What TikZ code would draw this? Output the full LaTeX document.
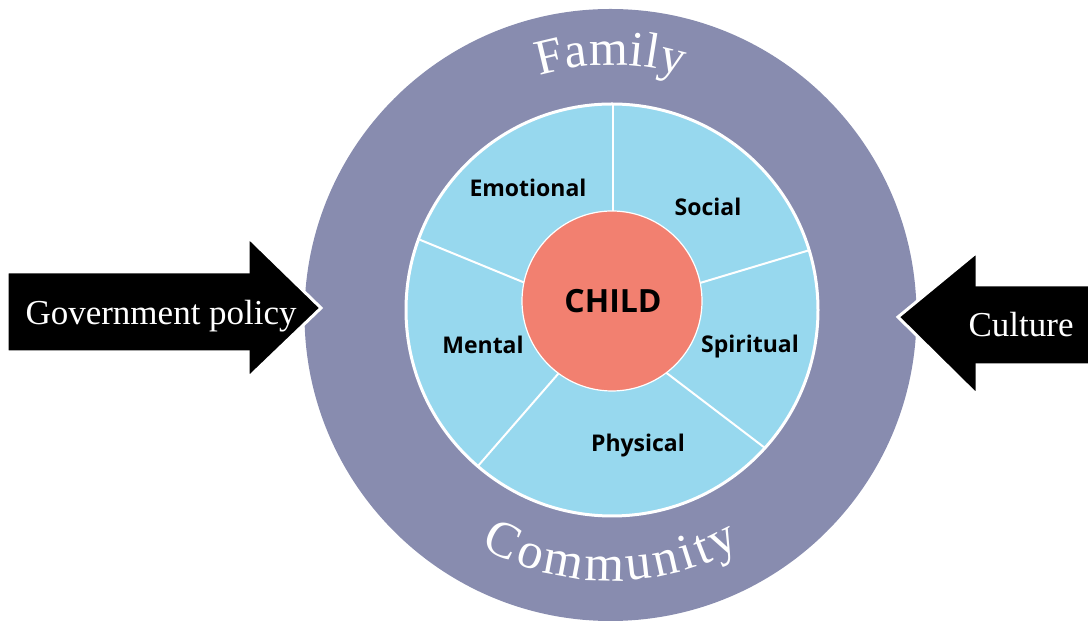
\documentclass[tikz,border=0pt]{standalone}
\usepackage{fontspec}
\setmainfont{Liberation Serif}
\newfontfamily\areafont{Open Sans}
\usetikzlibrary{positioning,decorations.text}
\definecolor{ringpurple}{HTML}{888CAF}
\definecolor{petalblue}{HTML}{97D8EE}
\definecolor{childred}{HTML}{F28070}

\begin{document}
\begin{tikzpicture}[x=1pt, y=1pt,
		area/.style={anchor=base, text=black, font=\areafont\bfseries\fontsize{23}{27}\selectfont},
		push/.style={fill=black, draw=white, line width=3pt, line join=miter},
		pushtext/.style={anchor=base west, text=white, font=\fontsize{35}{40}\selectfont},
		divider/.style={draw=white, line width=2pt}]
	\useasboundingbox (0,0) rectangle (1088,623);
	\coordinate (o) at (610.5,308);
	\coordinate (r) at (612,313);
	\coordinate (c) at (612,322);

	\fill[ringpurple] (o) circle[radius=306];
	\filldraw[push] (7,351) -- (248,351) -- (248,386) -- (321,315) -- (248,245) -- (248,271) -- (7,271) -- cycle;
	\filldraw[push] (1092,338) -- (977,338) -- (977,371) -- (898,306) -- (977,228) -- (977,258) -- (1092,258) -- cycle;
	\node[pushtext] (policy) at (22,298) {Government policy};
	\node[pushtext] (culture) at (965,286) {Culture};

	\path[decorate, decoration={text effects along path, text={Family}, text align=center,
		text effects/.cd, text along path,
		characters={text=white, font=\fontsize{50}{50}\selectfont},
		character widths={font=\fontsize{50}{50}\selectfont, inner xsep=0.3pt}}]
		([shift={(150:250)}]o) arc[start angle=150, end angle=30, radius=250];
	\path[decorate, decoration={text effects along path, text={Community}, text align=center,
		text effects/.cd, text along path,
		characters={text=white, font=\fontsize{51}{51}\selectfont},
		character widths={font=\fontsize{51}{51}\selectfont, inner xsep=1.7pt}}]
		([shift={(200:266)}]o) arc[start angle=200, end angle=340, radius=266];

	\fill[petalblue] (r) circle[radius=206];
	\coordinate (d1a) at (613,519);  \coordinate (d1b) at (613,400);
	\coordinate (d2a) at (810,373);  \coordinate (d2b) at (690,337);
	\coordinate (d3a) at (765,175);  \coordinate (d3b) at (660,255);
	\coordinate (d4a) at (478,157);  \coordinate (d4b) at (565,257);
	\coordinate (d5a) at (418,384);  \coordinate (d5b) at (535,336);
	\foreach \i in {1,...,5}
		\draw[divider] (d\i a) -- (d\i b);
	\draw[white, line width=3pt] (r) circle[radius=206];
	\filldraw[fill=childred, draw=white, line width=1.2pt] (c) circle[radius=90];

	\node[area] (emotional) at (528,426) {Emotional};
	\node[area] (social) at (708,407) {Social};
	\node[area] (spiritual) at (750,270) {Spiritual};
	\node[area] (mental) at (483,269) {Mental};
	\node[area] (physical) at (638,171) {Physical};
	\node[area, font=\areafont\bfseries\fontsize{32}{36}\selectfont] (child) at (613,310) {CHILD};
\end{tikzpicture}
\end{document}
